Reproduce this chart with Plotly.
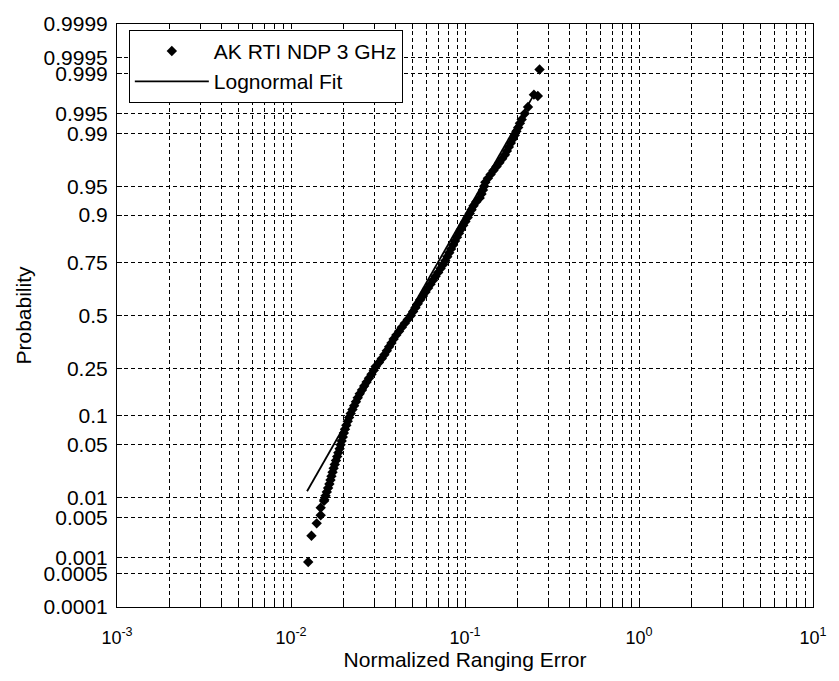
import plotly.graph_objects as go
from statistics import NormalDist

ND = NormalDist()

# ---------------- data ----------------
# Empirical points: normalized ranging error vs cumulative probability
err_x = [
    0.01256, 0.01311, 0.01405, 0.01481, 0.01481, 0.01549,
    0.01555, 0.01579, 0.01606, 0.01634, 0.01662, 0.01686, 0.01708, 0.01733,
    0.01758, 0.01784, 0.01813, 0.01843, 0.01871, 0.01903, 0.01928, 0.01956,
    0.01984, 0.02013, 0.02043, 0.02080, 0.02119, 0.02158, 0.02204, 0.02256,
    0.02306, 0.02362, 0.02418, 0.02482, 0.02557, 0.02634, 0.02719, 0.02805,
    0.02902, 0.02991, 0.03066, 0.03202, 0.03324, 0.03440, 0.03554, 0.03663,
    0.03779, 0.03890, 0.04029, 0.04179, 0.04335, 0.04508, 0.04688, 0.04882,
    0.05037, 0.05191, 0.05349, 0.05534, 0.05732, 0.05932, 0.06137, 0.06340,
    0.06551, 0.06777, 0.07011, 0.07242, 0.07494, 0.07702, 0.07906, 0.08116,
    0.08318, 0.08541, 0.08765, 0.08999, 0.09236, 0.09492, 0.09770, 0.10052,
    0.1036, 0.1065, 0.1091, 0.1120, 0.1162, 0.1215, 0.1244, 0.1269,
    0.1289, 0.1309, 0.1354, 0.1403, 0.1457, 0.1518, 0.1576, 0.1635,
    0.1696, 0.1740, 0.1787, 0.1834, 0.1882, 0.1932, 0.1975, 0.2022,
    0.2068, 0.2117,
    0.2205, 0.2302, 0.2489, 0.2622, 0.2682,
]
err_p = [
    0.00083, 0.00248, 0.0040, 0.0054, 0.0071, 0.0090,
    0.0094, 0.0107, 0.0122, 0.0139, 0.0158, 0.0179, 0.0202, 0.0228,
    0.0256, 0.0287, 0.0322, 0.0359, 0.0401, 0.0446, 0.0495, 0.0548,
    0.0606, 0.0668, 0.0735, 0.0808, 0.0885, 0.0968, 0.1056, 0.1151,
    0.1251, 0.1357, 0.1469, 0.1587, 0.1711, 0.1841, 0.1977, 0.2119,
    0.2266, 0.2420, 0.2578, 0.2743, 0.2912, 0.3085, 0.3264, 0.3446,
    0.3632, 0.3821, 0.4013, 0.4207, 0.4404, 0.4602, 0.4801, 0.5000,
    0.5199, 0.5398, 0.5596, 0.5793, 0.5987, 0.6179, 0.6368, 0.6554,
    0.6736, 0.6915, 0.7088, 0.7257, 0.7422, 0.7580, 0.7734, 0.7881,
    0.8023, 0.8159, 0.8289, 0.8413, 0.8531, 0.8643, 0.8749, 0.8849,
    0.8944, 0.9032, 0.9115, 0.9192, 0.9265, 0.9332, 0.9394, 0.9452,
    0.9505, 0.9554, 0.9599, 0.9641, 0.9678, 0.9713, 0.9744, 0.9772,
    0.9798, 0.9821, 0.9842, 0.9861, 0.9878, 0.9893, 0.9906, 0.9918,
    0.9929, 0.9938,
    0.9950, 0.9961, 0.99758, 0.99745, 0.99915,
]

# Lognormal fit line end points
fit_x = [0.01237, 0.2489]
fit_p = [0.0125, 0.99758]

# Axis ticks
prob_ticks = [0.0001, 0.0005, 0.001, 0.005, 0.01, 0.05, 0.1, 0.25, 0.5,
              0.75, 0.9, 0.95, 0.99, 0.995, 0.999, 0.9995, 0.9999]
prob_labels = ['0.0001', '0.0005', '0.001', '0.005', '0.01', '0.05', '0.1',
               '0.25', '0.5', '0.75', '0.9', '0.95', '0.99', '0.995',
               '0.999', '0.9995', '0.9999']
x_decades = [1e-3, 1e-2, 1e-1, 1e0, 1e1]
x_decade_labels = ['10<sup>-3</sup>', '10<sup>-2</sup>', '10<sup>-1</sup>',
                   '10<sup>0</sup>', '10<sup>1</sup>']
minor_mult = [2, 3, 4, 5, 6, 7, 8, 9]

# ---------------- build ----------------
def q(p):
    return ND.inv_cdf(p)

x_tickvals, x_ticktext = [], []
for i, d in enumerate(x_decades):
    x_tickvals.append(d)
    x_ticktext.append(x_decade_labels[i])
    if i < len(x_decades) - 1:
        for m in minor_mult:
            x_tickvals.append(d * m)
            x_ticktext.append('')

FONT = 'Liberation Sans, Arial, sans-serif'

fig = go.Figure()
fig.add_trace(go.Scatter(
    x=err_x, y=[q(p) for p in err_p], mode='markers',
    name='AK RTI NDP 3 GHz',
    marker=dict(symbol='diamond', size=8, color='black'),
))
fig.add_trace(go.Scatter(
    x=fit_x, y=[q(p) for p in fit_p], mode='lines',
    name='Lognormal Fit',
    line=dict(color='black', width=1.8),
))

ymin, ymax = q(prob_ticks[0]), q(prob_ticks[-1])

fig.update_layout(
    width=839, height=681,
    margin=dict(l=117, r=17, t=19, b=74),
    paper_bgcolor='white', plot_bgcolor='white',
    font=dict(family=FONT, size=21, color='black'),
    showlegend=True,
    legend=dict(
        x=0.017, y=0.99, xanchor='left', yanchor='top',
        bgcolor='white', bordercolor='black', borderwidth=1,
        font=dict(size=21), itemwidth=74, tracegroupgap=0,
    ),
    xaxis=dict(
        type='log', range=[-3, 1],
        tickmode='array', tickvals=x_tickvals, ticktext=x_ticktext,
        tickfont=dict(size=18),
        ticks='inside', ticklen=5, tickcolor='black',
        showline=True, linecolor='black', linewidth=1, mirror='ticks',
        showgrid=True, gridcolor='black', gridwidth=1, griddash='4px,3px',
        zeroline=False, ticklabelstandoff=14,
        title=dict(text='Normalized Ranging Error', font=dict(size=21), standoff=4),
    ),
    yaxis=dict(
        range=[ymin, ymax],
        tickmode='array', tickvals=[q(p) for p in prob_ticks], ticktext=prob_labels,
        ticks='inside', ticklen=5, tickcolor='black',
        showline=True, linecolor='black', linewidth=1, mirror='ticks',
        showgrid=True, gridcolor='black', gridwidth=1, griddash='4px,3px',
        zeroline=False, ticklabelstandoff=4,
        title=dict(text='Probability', font=dict(size=21), standoff=6),
    ),
)

fig.write_html('out.html')
